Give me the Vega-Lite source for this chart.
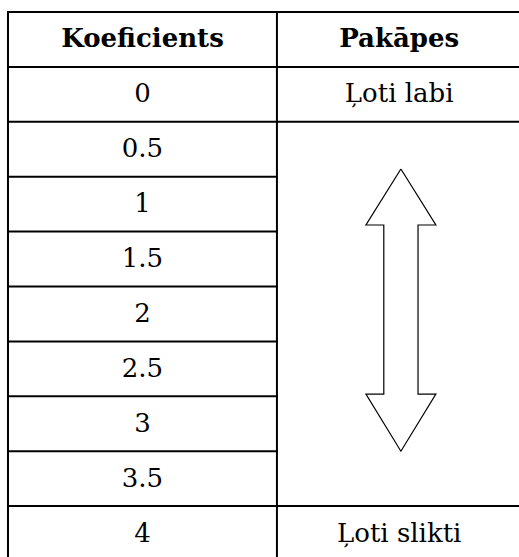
{
  "$schema": "https://vega.github.io/schema/vega-lite/v6.json",
  "width": 519,
  "height": 557,
  "autosize": "none",
  "padding": 0,
  "background": "white",
  "config": {"view": {"stroke": null}},
  "datasets": {
    "lines": [
      {"x": 0, "x2": 2.1, "y": 0, "y2": 0},
      {"x": 0, "x2": 2.1, "y": 1, "y2": 1},
      {"x": 0, "x2": 2.1, "y": 2, "y2": 2},
      {"x": 0, "x2": 1.1, "y": 3, "y2": 3},
      {"x": 0, "x2": 1.1, "y": 4, "y2": 4},
      {"x": 0, "x2": 1.1, "y": 5, "y2": 5},
      {"x": 0, "x2": 1.1, "y": 6, "y2": 6},
      {"x": 0, "x2": 1.1, "y": 7, "y2": 7},
      {"x": 0, "x2": 1.1, "y": 8, "y2": 8},
      {"x": 0, "x2": 2.1, "y": 9, "y2": 9},
      {"x": 0, "x2": 2.1, "y": 10, "y2": 10},
      {"x": 0, "x2": 0, "y": 0, "y2": 10},
      {"x": 1.1, "x2": 1.1, "y": 0, "y2": 10},
      {"x": 2.1, "x2": 2.1, "y": 0, "y2": 10}
    ],
    "header": [
      {"x": 0.55, "y": 0.5, "label": "Koeficients"},
      {"x": 1.6, "y": 0.5, "label": "Pakāpes"}
    ],
    "cells": [
      {"x": 0.55, "y": 1.5, "label": "0"},
      {"x": 0.55, "y": 2.5, "label": "0.5"},
      {"x": 0.55, "y": 3.5, "label": "1"},
      {"x": 0.55, "y": 4.5, "label": "1.5"},
      {"x": 0.55, "y": 5.5, "label": "2"},
      {"x": 0.55, "y": 6.5, "label": "2.5"},
      {"x": 0.55, "y": 7.5, "label": "3"},
      {"x": 0.55, "y": 8.5, "label": "3.5"},
      {"x": 0.55, "y": 9.5, "label": "4"},
      {"x": 1.6, "y": 1.5, "label": "Ļoti labi"},
      {"x": 1.6, "y": 9.5, "label": "Ļoti slikti"}
    ],
    "arrow": [
      {"o": 0, "x": 1.607, "y": 2.86},
      {"o": 1, "x": 1.750, "y": 3.88},
      {"o": 2, "x": 1.677, "y": 3.88},
      {"o": 3, "x": 1.677, "y": 6.96},
      {"o": 4, "x": 1.750, "y": 6.96},
      {"o": 5, "x": 1.607, "y": 8.0},
      {"o": 6, "x": 1.464, "y": 6.96},
      {"o": 7, "x": 1.537, "y": 6.96},
      {"o": 8, "x": 1.537, "y": 3.88},
      {"o": 9, "x": 1.464, "y": 3.88},
      {"o": 10, "x": 1.607, "y": 2.86}
    ]
  },
  "layer": [
    {
      "data": {"name": "lines"},
      "mark": {"type": "rule", "color": "black", "strokeWidth": 2, "strokeCap": "square"},
      "encoding": {
        "x": {"field": "x", "type": "quantitative", "axis": null, "scale": {"domain": [-0.0327, 2.09], "nice": false, "zero": false}},
        "x2": {"field": "x2"},
        "y": {"field": "y", "type": "quantitative", "axis": null, "scale": {"domain": [-0.2186, 9.9271], "nice": false, "zero": false, "reverse": true}},
        "y2": {"field": "y2"}
      }
    },
    {
      "data": {"name": "arrow"},
      "mark": {"type": "line", "color": "black", "strokeWidth": 1.2, "strokeJoin": "miter", "interpolate": "linear"},
      "encoding": {
        "x": {"field": "x", "type": "quantitative", "axis": null},
        "y": {"field": "y", "type": "quantitative", "axis": null},
        "order": {"field": "o", "type": "quantitative"}
      }
    },
    {
      "data": {"name": "header"},
      "mark": {"type": "text", "font": "DejaVu Serif", "fontSize": 26, "fontWeight": "bold", "color": "black", "align": "center", "baseline": "middle"},
      "encoding": {
        "x": {"field": "x", "type": "quantitative", "axis": null},
        "y": {"field": "y", "type": "quantitative", "axis": null},
        "text": {"field": "label", "type": "nominal"}
      }
    },
    {
      "data": {"name": "cells"},
      "mark": {"type": "text", "font": "DejaVu Serif", "fontSize": 26, "color": "black", "align": "center", "baseline": "middle"},
      "encoding": {
        "x": {"field": "x", "type": "quantitative", "axis": null},
        "y": {"field": "y", "type": "quantitative", "axis": null},
        "text": {"field": "label", "type": "nominal"}
      }
    }
  ]
}
